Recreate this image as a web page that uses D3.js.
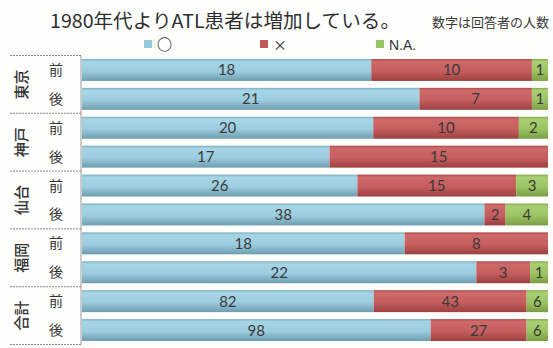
<!DOCTYPE html>
<html>
<head>
<meta charset="utf-8">
<script src="https://cdn.jsdelivr.net/npm/d3@7"></script>
<style>
  html, body { margin: 0; padding: 0; background: #ffffff; }
  svg { display: block; }
</style>
</head>
<body>
<svg id="chart" width="553" height="348"></svg>
<script>
// Survey answers per city, before (前) and after (後)
const cities = ["東京", "神戸", "仙台", "福岡", "合計"];
const periods = ["前", "後"];
const seriesNames = ["○", "×", "N.A."];
const yesValues = [18, 21, 20, 17, 26, 38, 18, 22, 82, 98];
const noValues  = [10, 7, 10, 15, 15, 2, 8, 3, 43, 27];
const naValues  = [1, 1, 2, 0, 3, 4, 0, 1, 6, 6];
const titleText = "1980年代よりATL患者は増加している。";
const noteText = "数字は回答者の人数";

const svg = d3.select("#chart");
const W = 553, H = 348;
svg.append("rect").attr("width", W).attr("height", H).attr("fill", "#fefefd");

const rows = [];
cities.forEach((c, i) => periods.forEach((p, j) => {
  const k = i * 2 + j;
  const total = yesValues[k] + noValues[k] + naValues[k];
  rows.push({ key: c + "|" + p, city: c, period: p,
    "○": yesValues[k], "×": noValues[k], "N.A.": naValues[k], total });
}));

const y = d3.scaleBand().domain(rows.map(r => r.key))
  .range([55.5, 344.5]).paddingInner(0.24).paddingOuter(0.12);
const x = d3.scaleLinear().domain([0, 1]).range([82, 548]);

const palette = {
  "○":   ["#7fb0c1", "#a6d6e5", "#9ccde0", "#6d9dae"],
  "×":   ["#b04c4c", "#cd6a69", "#c65e5e", "#9d4040"],
  "N.A.":["#86ac50", "#a9cf72", "#9cc463", "#7a9e45"]
};
const legendColor = { "○": "#92c9d9", "×": "#c0575a", "N.A.": "#96c364" };

const defs = svg.append("defs");
seriesNames.forEach((s, i) => {
  const g = defs.append("linearGradient").attr("id", "grad" + i)
    .attr("x1", 0).attr("y1", 0).attr("x2", 0).attr("y2", 1);
  const c = palette[s];
  [[0, c[0]], [0.12, c[1]], [0.55, c[2]], [1, c[3]]].forEach(([o, col]) =>
    g.append("stop").attr("offset", o).attr("stop-color", col));
});

// 100% stacked layout
const stack = d3.stack().keys(seriesNames)
  .value((d, k) => d[k] / d.total);
const layers = stack(rows);

const barG = svg.append("g");
layers.forEach((layer, i) => {
  barG.selectAll(null).data(layer.filter(d => d[1] - d[0] > 0)).enter()
    .append("rect")
    .attr("x", d => x(d[0]))
    .attr("y", d => y(d.data.key))
    .attr("width", d => x(d[1]) - x(d[0]))
    .attr("height", y.bandwidth())
    .attr("fill", "url(#grad" + i + ")");
});

// value labels centred in each segment
layers.forEach((layer, i) => {
  barG.selectAll(null).data(layer.filter(d => d.data[layer.key] > 0)).enter()
    .append("text")
    .attr("x", d => (x(d[0]) + x(d[1])) / 2)
    .attr("y", d => y(d.data.key) + y.bandwidth() / 2 + 5.5)
    .attr("text-anchor", "middle")
    .attr("font-family", "Lato, 'Open Sans', sans-serif")
    .attr("font-size", 15)
    .attr("fill", "#3a3a3a")
    .text(d => d.data[layer.key]);
});

// left label panel
const panel = svg.append("g");
const step = y.step();
const top0 = y.range()[0];
panel.append("line").attr("x1", 81).attr("x2", 81)
  .attr("y1", top0).attr("y2", y.range()[1])
  .attr("stroke", "#9a9a9a").attr("stroke-width", 1);
cities.forEach((c, i) => {
  const yTop = top0 + i * 2 * step;
  panel.append("line").attr("x1", 10).attr("x2", 81)
    .attr("y1", yTop).attr("y2", yTop)
    .attr("stroke", "#8a8a8a").attr("stroke-width", 1)
    .attr("stroke-dasharray", "2,1");
  const cy = yTop + step;
  panel.append("text")
    .attr("transform", `translate(27,${cy}) rotate(-90)`)
    .attr("text-anchor", "middle")
    .attr("font-family", "'Noto Sans CJK JP', sans-serif")
    .attr("font-size", 15)
    .attr("font-weight", 500)
    .attr("fill", "#333")
    .text(c);
});
panel.append("line").attr("x1", 10).attr("x2", 81)
  .attr("y1", y.range()[1]).attr("y2", y.range()[1])
  .attr("stroke", "#8a8a8a").attr("stroke-width", 1)
  .attr("stroke-dasharray", "2,1");
rows.forEach(r => {
  panel.append("text")
    .attr("x", 56).attr("y", y(r.key) + y.bandwidth() / 2 + 5)
    .attr("text-anchor", "middle")
    .attr("font-family", "'Noto Sans CJK JP', sans-serif")
    .attr("font-size", 14)
    .attr("fill", "#333")
    .text(r.period);
});

// title and note
svg.append("text").attr("x", 50).attr("y", 28)
  .attr("font-family", "'Noto Sans CJK JP', sans-serif")
  .attr("font-size", 19)
  .attr("fill", "#2e2e2e")
  .attr("textLength", 350).attr("lengthAdjust", "spacingAndGlyphs")
  .text(titleText);
svg.append("text").attr("x", 432).attr("y", 27)
  .attr("font-family", "'Noto Sans CJK JP', sans-serif")
  .attr("font-size", 13)
  .attr("fill", "#3a3a3a")
  .text(noteText);

// legend
const legendX = [144, 260, 376];
const legend = svg.append("g");
seriesNames.forEach((s, i) => {
  legend.append("rect").attr("x", legendX[i]).attr("y", 40)
    .attr("width", 8).attr("height", 8).attr("fill", legendColor[s]);
  legend.append("text").attr("x", legendX[i] + 13).attr("y", 50)
    .attr("font-family", s === "N.A." ? "'Liberation Sans', sans-serif" : "'Noto Sans CJK JP', sans-serif")
    .attr("font-size", s === "○" ? 15 : 14)
    .attr("font-weight", s === "○" ? 700 : 400)
    .attr("fill", "#333")
    .text(s);
});
</script>
</body>
</html>
